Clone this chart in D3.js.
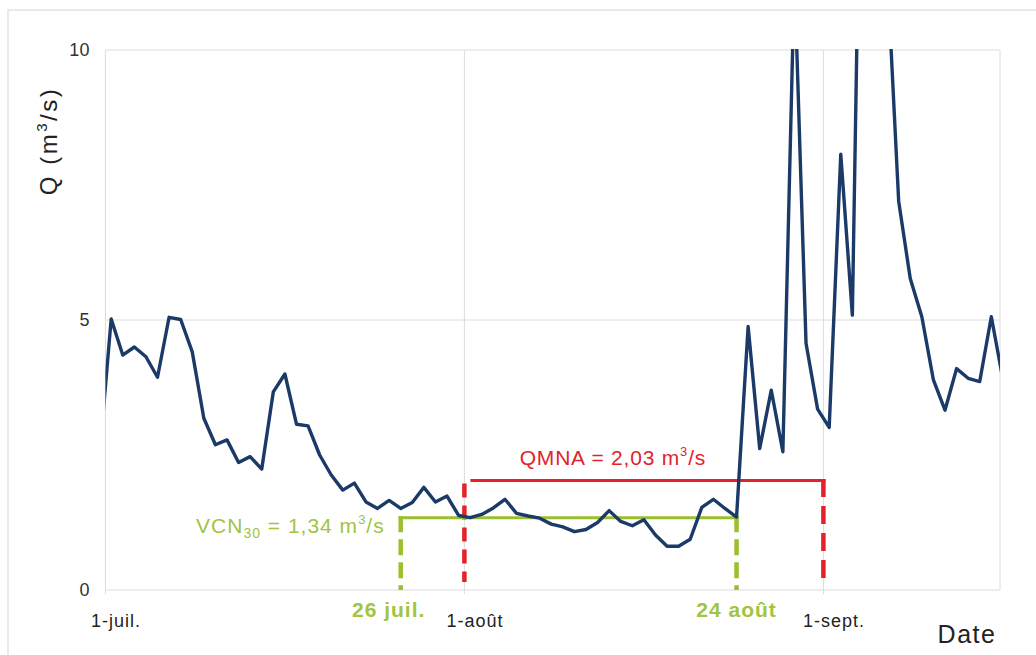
<!DOCTYPE html>
<html><head><meta charset="utf-8">
<script src="https://cdn.jsdelivr.net/npm/d3@7"></script>
<style>body{margin:0;background:#fff} svg{display:block;font-family:"Liberation Sans",Arial,sans-serif}</style>
</head><body><svg id="c" width="1036" height="655"></svg>
<script>
// Daily mean flow (m3/s), first value = 30 June
const firstDay = "2000-06-30";
const flow = [2.5,
 5.02,4.35,4.5,4.32,3.94,5.05,5.01,4.41,3.18,2.69,
 2.78,2.36,2.47,2.24,3.67,4.0,3.07,3.04,2.5,2.13,
 1.85,1.98,1.63,1.51,1.66,1.51,1.62,1.90,1.63,1.74,
 1.38,1.34,1.40,1.52,1.68,1.42,1.37,1.33,1.22,1.17,
 1.08,1.12,1.25,1.47,1.27,1.19,1.30,1.02,0.81,0.81,
 0.94,1.53,1.68,1.51,1.35,4.88,2.62,3.70,2.56,11.4,
 4.57,3.35,3.01,8.07,5.09,18,15,11.5,7.2,5.77,
 5.06,3.89,3.33,4.1,3.92,3.86,5.06,3.9];
const yTicks = [0,5,10];
const xTickDates = ["2000-07-01","2000-08-01","2000-09-01"];
const xTickLabels = ["1-juil.","1-août","1-sept."];
const qmnaValue = 2.03, qmnaStart = "2000-08-01", qmnaEnd = "2000-09-01";
const vcnValue = 1.34, vcnStart = "2000-07-26", vcnEnd = "2000-08-24";
const vcnDateLabels = ["26 juil.","24 août"];

const parse = d3.timeParse("%Y-%m-%d");
const DAY = 864e5;
const t0 = parse("2000-07-01");
const noon = d => new Date(d.getTime() + DAY/2);
const d0 = parse(firstDay);
const data = flow.map((v,i) => ({date: noon(new Date(d0.getTime() + i*DAY)), v}));

const L = 105.4, R = 1000, T = 50, B = 590;
const x = d3.scaleTime().domain([t0, new Date(t0.getTime() + 77.25*DAY)]).range([L, R]);
const y = d3.scaleLinear().domain([0, 10]).range([B, T]);

const svg = d3.select("#c");
svg.append("rect").attr("x",8).attr("y",10).attr("width",1040).attr("height",660)
  .attr("fill","none").attr("stroke","#e4e4e4").attr("stroke-width",1.5);

// grid
const grid = svg.append("g").attr("stroke","#dcdcdc").attr("stroke-width",1);
grid.selectAll(".h").data(yTicks).join("line")
  .attr("x1",L).attr("x2",R).attr("y1",d=>y(d)).attr("y2",d=>y(d));
grid.selectAll(".v").data(xTickDates).join("line")
  .attr("x1",d=>x(parse(d))).attr("x2",d=>x(parse(d))).attr("y1",T).attr("y2",B+4);
grid.append("line").attr("x1",R).attr("x2",R).attr("y1",T).attr("y2",B);

// y axis labels
const yAxis = d3.axisLeft(y).tickValues(yTicks).tickSize(0).tickPadding(16).tickFormat(d3.format("d"));
const ya = svg.append("g").attr("transform",`translate(${L},0)`).call(yAxis);
ya.select(".domain").remove();
ya.selectAll("text").attr("font-size",18).attr("fill","#333").attr("font-family","Liberation Sans, Arial, sans-serif");

// x axis labels
const xAxis = d3.axisBottom(x).tickValues(xTickDates.map(parse)).tickSize(0).tickPadding(24)
  .tickFormat((d,i) => xTickLabels[i]);
const xa = svg.append("g").attr("transform",`translate(0,${B})`).call(xAxis);
xa.select(".domain").remove();
xa.selectAll("text").attr("font-size",18).attr("letter-spacing",1).attr("fill","#222").attr("dx",10)
  .attr("font-family","Liberation Sans, Arial, sans-serif");

// axis titles
const yt = svg.append("text").attr("transform","translate(57,141) rotate(-90)")
  .attr("text-anchor","middle").attr("font-size",24).attr("letter-spacing",2.5).attr("fill","#222");
yt.append("tspan").text("Q (m");
yt.append("tspan").text("3").attr("font-size",15).attr("dy",-10);
yt.append("tspan").text("/s)").attr("dy",10);
svg.append("text").attr("x",967).attr("y",643).attr("text-anchor","middle")
  .attr("font-size",25).attr("letter-spacing",1.5).attr("fill","#222").text("Date");

// QMNA annotation
const red = "#e2232b";
const qy = y(qmnaValue), qx1 = x(parse(qmnaStart)), qx2 = x(parse(qmnaEnd));
svg.append("line").attr("x1",qx1+6).attr("x2",qx2+2).attr("y1",qy).attr("y2",qy)
  .attr("stroke",red).attr("stroke-width",3);
[qx1, qx2].forEach((xx,i) => svg.append("line").attr("x1",xx).attr("x2",xx)
  .attr("y1", i ? qy-1.5 : qy+3).attr("y2", i ? 578 : 582)
  .attr("stroke",red).attr("stroke-width",4.5).attr("stroke-dasharray", i ? "18,9" : "14,8"));
const qt = svg.append("text").attr("x",(qx1+qx2)/2-31).attr("y",qy-15).attr("text-anchor","middle")
  .attr("font-size",21).attr("letter-spacing",0.8).attr("fill",red);
qt.append("tspan").text("QMNA = " + d3.format(".2f")(qmnaValue).replace(".",",") + " m");
qt.append("tspan").text("3").attr("font-size",13).attr("dy",-9);
qt.append("tspan").text("/s").attr("dy",9);

// VCN30 annotation
const green = "#9bbf2d", greenTxt = "#a2c43f";
const vy = y(vcnValue), vx1 = x(noon(parse(vcnStart))), vx2 = x(noon(parse(vcnEnd)));
svg.append("line").attr("x1",vx1-2).attr("x2",vx2+2).attr("y1",vy).attr("y2",vy)
  .attr("stroke",green).attr("stroke-width",3);
[vx1, vx2].forEach(xx => svg.append("line").attr("x1",xx).attr("x2",xx)
  .attr("y1",vy-1.5).attr("y2",B)
  .attr("stroke",green).attr("stroke-width",4.5).attr("stroke-dasharray","16,7"));
const vt = svg.append("text").attr("x",vx1-16).attr("y",vy+15).attr("text-anchor","end")
  .attr("font-size",21).attr("letter-spacing",1).attr("fill",greenTxt);
vt.append("tspan").text("VCN");
vt.append("tspan").text("30").attr("font-size",14).attr("dy",5);
vt.append("tspan").text(" = " + d3.format(".2f")(vcnValue).replace(".",",") + " m").attr("dy",-5);
vt.append("tspan").text("3").attr("font-size",13).attr("dy",-9);
vt.append("tspan").text("/s").attr("dy",9);
svg.selectAll(".vcnlab").data(vcnDateLabels).join("text")
  .attr("x",(d,i)=> i ? vx2 : vx1-12).attr("y",617).attr("text-anchor","middle")
  .attr("font-size",21).attr("letter-spacing",1).attr("font-weight","bold").attr("fill",greenTxt).text(d=>d);

// flow line
svg.append("clipPath").attr("id","clip").append("rect")
  .attr("x",L).attr("y",T-1).attr("width",R-L).attr("height",B-T+2);
svg.append("path").datum(data).attr("clip-path","url(#clip)")
  .attr("fill","none").attr("stroke","#1b3a68").attr("stroke-width",3.4)
  .attr("stroke-linejoin","round")
  .attr("d", d3.line().x(d=>x(d.date)).y(d=>y(d.v)));
</script></body></html>
